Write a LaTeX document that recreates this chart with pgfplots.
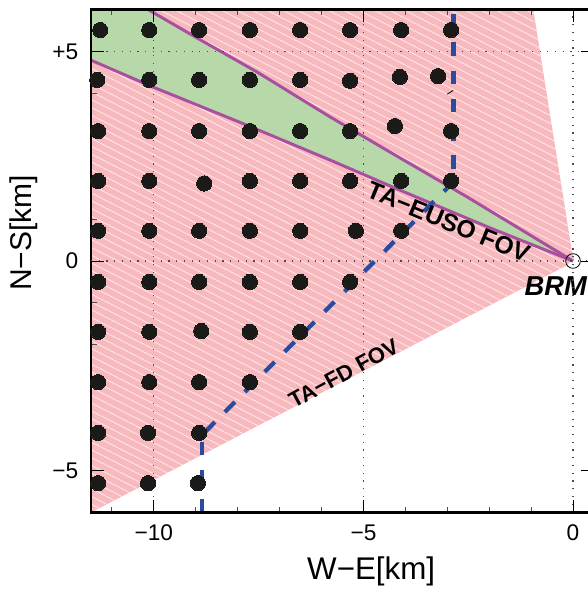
\documentclass[border=0pt]{standalone}
\usepackage{fontspec}
\setmainfont{Liberation Sans}
\usepackage{pgfplots}
\pgfplotsset{compat=1.18}
\usetikzlibrary{patterns.meta}
\definecolor{pinkfov}{HTML}{F7B9BE}
\definecolor{hatchc}{HTML}{FDE6E8}
\definecolor{greenfov}{HTML}{B7D8A8}
\definecolor{purp}{HTML}{A84F9F}
\definecolor{blued}{HTML}{2B4C9E}
\definecolor{dotc}{HTML}{1A1A18}
\begin{document}
\begin{tikzpicture}
\useasboundingbox (-68.25pt,-58.125pt) rectangle (372pt,384.375pt);
\begin{axis}[
  at={(0,0)}, anchor=south west,
  scale only axis, width=377.25pt, height=377.25pt,
  xmin=-11.5, xmax=0.5, ymin=-6, ymax=6,
  axis on top,
  axis line style={line width=2pt},
  xtick={-10,-5,0}, ytick={-5},
  xticklabels={−10,−5,0}, yticklabels={−5},
  extra y ticks={0,5}, extra y tick labels={0,+5},
  extra y tick style={ymajorgrids=true},
  minor xtick={-11,-9,-8,-7,-6,-4,-3,-2,-1},
  minor ytick={-4,-3,-2,-1,1,2,3,4},
  tick align=inside,
  major tick length=9.75pt, minor tick length=4.5pt,
  tick style={black, line width=0.7pt},
  minor tick style={black!70, line width=0.7pt},
  xmajorgrids=true, ymajorgrids=false,
  grid style={black!70, line width=0.9pt, dash pattern=on 0.9pt off 4.9pt},
  tick label style={font=\fontsize{17}{17}\selectfont},
  xticklabel style={yshift=-5.5pt},
  yticklabel style={xshift=-6pt},
  xlabel={W−E[km]},
  ylabel={N−S[km]},
  xlabel style={font=\fontsize{23.5}{24}\selectfont, at={(axis description cs:0.557,0)}, anchor=north, yshift=-30pt},
  ylabel style={font=\fontsize{22.5}{24}\selectfont, at={(axis description cs:0,0.556)}, anchor=south, yshift=36.5pt},
]
% TA-FD FOV
\addplot[draw=none, fill=pinkfov, postaction={pattern={Lines[angle=-27,distance=5.2pt,line width=0.7pt]}, pattern color=hatchc}]
  coordinates {(-11.5,-6) (-0.14,-0.10) (0.02,0.07) (-0.02,0.19) (-0.95,6) (-11.5,6)} -- cycle;
% TA-EUSO FOV
\addplot[draw=none, fill=greenfov] coordinates {(-11.5,6) (-10.14,6) (-8.97,5.32) (-7.54,4.51) (-5.80,3.44) (-4.13,2.46) (-2.53,1.53) (0,0) (-1.98,0.79) (-4.13,1.69) (-5.80,2.41) (-7.78,3.24) (-10.02,4.15) (-11.5,4.79)} -- cycle;
\addplot[purp, line width=2.2pt] coordinates {(-10.14,6) (-8.97,5.32) (-7.54,4.51) (-5.80,3.44) (-4.13,2.46) (-2.53,1.53) (0,0)};
\addplot[purp, line width=2.2pt] coordinates {(-11.5,4.79) (-10.02,4.15) (-7.78,3.24) (-5.80,2.41) (-4.13,1.69) (-1.98,0.79) (0,0)};
% boundary of the array
\addplot[blued, line width=3.2pt, dash pattern=on 10pt off 11.2pt] coordinates {(-2.85,5.89) (-2.85,1.85)};
\addplot[blued, line width=3.2pt, dash pattern=on 10.5pt off 10.7pt] coordinates {(-8.78,-4.08) (-3.0,1.74)};
\addplot[blued, line width=3.2pt, dash pattern=on 10pt off 11.2pt] coordinates {(-8.86,-4.32) (-8.86,-6)};
\addplot[black, line width=0.6pt] coordinates {(-3.0,3.98) (-2.86,4.07)};
% stations
\addplot[only marks, mark=*, mark size=5.7pt, mark options={fill=dotc, draw=dotc, line width=0pt}] table {
-11.28 5.51
-10.11 5.51
-8.92 5.51
-7.71 5.51
-6.51 5.51
-5.32 5.51
-4.10 5.51
-2.91 5.51
-11.35 4.32
-10.11 4.32
-8.92 4.32
-7.71 4.32
-6.51 4.32
-5.32 4.30
-4.13 4.39
-3.22 4.41
-11.33 3.10
-10.11 3.10
-8.92 3.10
-7.71 3.10
-6.51 3.10
-5.32 3.10
-4.25 3.22
-2.91 3.10
-11.33 1.91
-10.11 1.91
-8.80 1.85
-7.71 1.91
-6.51 1.91
-5.32 1.91
-4.10 1.91
-2.91 1.91
-11.33 0.72
-10.11 0.72
-8.92 0.72
-7.71 0.72
-6.51 0.72
-5.18 0.72
-4.10 0.72
-11.33 -0.50
-10.11 -0.50
-8.92 -0.50
-7.71 -0.50
-6.51 -0.50
-5.32 -0.50
-11.33 -1.69
-10.11 -1.69
-8.87 -1.67
-7.71 -1.69
-6.51 -1.69
-11.33 -2.89
-10.11 -2.89
-8.92 -2.89
-7.71 -2.89
-11.33 -4.10
-10.14 -4.10
-8.92 -4.10
-11.33 -5.30
-10.14 -5.30
-8.95 -5.30
};
% BRM
\addplot[only marks, mark=o, mark size=5.5pt, mark options={draw=black, line width=0.6pt}] coordinates {(0,0)};
\node[rotate=-22.4, font=\fontsize{18.5}{18}\selectfont\bfseries] at (axis cs:-2.96,0.93) {TA−EUSO FOV};
\node[rotate=28.6, font=\fontsize{16.5}{17}\selectfont\bfseries] at (axis cs:-5.47,-2.68) {TA−FD FOV};
\node[font=\fontsize{20.5}{21}\selectfont\bfseries\itshape] at (axis cs:-0.41,-0.6) {BRM};
\end{axis}
\end{tikzpicture}
\end{document}
